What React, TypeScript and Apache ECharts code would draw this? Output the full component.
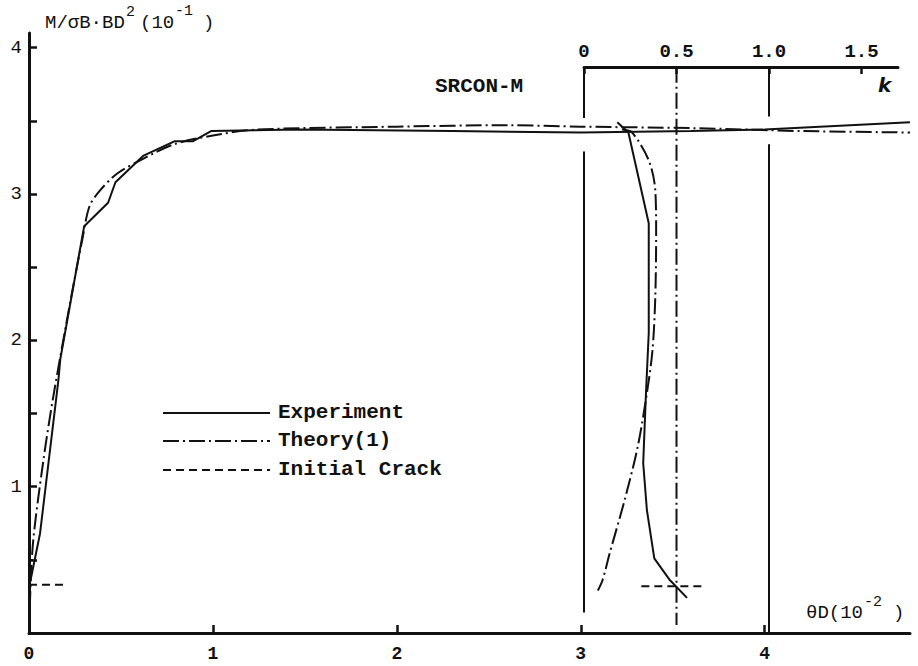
import React, { useEffect, useRef } from "react";
import * as echarts from "echarts";

// Main panel: M/(sigma B D^2) (10^-1) versus thetaD (10^-2)
const expX = [0, 0.005, 0.06, 0.16, 0.17, 0.30, 0.43, 0.47, 0.62, 0.79, 0.89, 0.99, 1.47, 2.3, 3.0, 3.6, 4.0, 4.79];
const expM = [0, 0.34, 0.68, 1.73, 1.87, 2.78, 2.94, 3.08, 3.26, 3.36, 3.36, 3.43, 3.44, 3.43, 3.42, 3.43, 3.44, 3.49];

const theoryX = [0, 0.02, 0.076, 0.13, 0.23, 0.29, 0.33, 0.39, 0.48, 0.62, 0.79, 1.0, 1.24, 2.0, 2.6, 3.0, 3.6, 4.2, 4.79];
const theoryM = [0, 0.59, 1.16, 1.60, 2.30, 2.69, 2.92, 3.03, 3.14, 3.24, 3.34, 3.40, 3.44, 3.46, 3.47, 3.46, 3.45, 3.43, 3.42];

const crackX = [0, 0.19];
const crackM = [0.33, 0.33];

// Inset panel: M versus k
const expK = [0.18, 0.24, 0.35, 0.35, 0.335, 0.32, 0.34, 0.38, 0.465, 0.557];
const expKM = [3.49, 3.42, 2.80, 2.05, 1.64, 1.16, 0.84, 0.51, 0.36, 0.24];

const theoryK = [0.205, 0.26, 0.35, 0.385, 0.39, 0.385, 0.37, 0.34, 0.29, 0.22, 0.14, 0.10, 0.075];
const theoryKM = [3.44, 3.42, 3.23, 3.03, 2.73, 2.28, 1.93, 1.64, 1.27, 0.91, 0.55, 0.36, 0.29];

const crackK = [0.31, 0.65];
const crackKM = [0.32, 0.32];

// reference verticals in the k panel
const refK0Segs = [[3.87, 3.52], [3.29, 0.14]];
const refK05Segs = [[3.87, 0.055]];
const refK1Segs = [[3.87, 3.53], [3.34, 0]];

const xTickLabels = [0, 1, 2, 3, 4];
const yTickLabels = [1, 2, 3, 4];
const yTicks = [0.5, 1, 1.5, 2, 2.5, 3, 3.5, 4];
const kTickLabels = [0, 0.5, 1.0, 1.5];

const FONT = "Liberation Mono";
const INK = "#111";
const DASHDOT = [16, 4, 2, 4];
const DASHED = [8, 5];

const zip = (a: number[], b: number[]) => a.map((v, i) => [v, b[i]]);

const txt = (text: string, x: number, y: number, size: number, extra: any = {}) => ({
  type: "text",
  x,
  y,
  style: {
    text,
    fontFamily: FONT,
    fontSize: size,
    fill: INK,
    verticalAlign: "middle",
    align: "left",
    ...extra,
  },
});

export default function App() {
  const ref = useRef<HTMLDivElement>(null);
  useEffect(() => {
    if (!ref.current) return;
    const chart = echarts.init(ref.current, null, { renderer: "svg" });

    const vertical = (k: number, segs: number[][], dash: any, name: string) =>
      segs.map((s, i) => ({
        type: "line",
        name: name + i,
        xAxisIndex: 1,
        yAxisIndex: 1,
        data: [[k, s[0]], [k, s[1]]],
        symbol: "none",
        silent: true,
        lineStyle: { color: INK, width: 2, type: dash },
      }));

    const option: any = {
      animation: false,
      backgroundColor: "#fff",
      grid: [
        { left: 29, top: 33, width: 881, height: 600 },
        { left: 584, top: 67, width: 314, height: 566 },
      ],
      xAxis: [
        {
          type: "value",
          gridIndex: 0,
          min: 0,
          max: 4.79,
          splitLine: { show: false },
          axisLine: { show: true, onZero: false, lineStyle: { color: INK, width: 3 } },
          axisTick: { show: true, inside: true, length: 8, customValues: xTickLabels, lineStyle: { color: INK, width: 2.5 } },
          axisLabel: {
            customValues: xTickLabels,
            margin: 12,
            color: INK,
            fontFamily: FONT,
            fontWeight: "bold",
            fontSize: 18,
            formatter: (v: number) => String(v),
          },
        },
        {
          type: "value",
          gridIndex: 1,
          position: "top",
          min: 0,
          max: 314 / 185,
          splitLine: { show: false },
          axisLine: { show: true, onZero: false, lineStyle: { color: INK, width: 3 } },
          axisTick: { show: true, inside: true, length: 7, customValues: kTickLabels, lineStyle: { color: INK, width: 2.5 } },
          axisLabel: {
            customValues: kTickLabels,
            margin: 6,
            color: INK,
            fontFamily: FONT,
            fontWeight: "bold",
            fontSize: 19,
            formatter: (v: number) => (v === 0 ? "0" : v.toFixed(1)),
          },
        },
      ],
      yAxis: [
        {
          type: "value",
          gridIndex: 0,
          min: 0,
          max: 4.1,
          splitLine: { show: false },
          axisLine: { show: true, onZero: false, lineStyle: { color: INK, width: 3 } },
          axisTick: { show: true, inside: true, length: 8, customValues: yTicks, lineStyle: { color: INK, width: 2.5 } },
          axisLabel: {
            customValues: yTickLabels,
            margin: 7,
            color: INK,
            fontFamily: FONT,
            fontSize: 19,
            formatter: (v: number) => String(v),
          },
        },
        {
          type: "value",
          gridIndex: 1,
          min: 0,
          max: 566 / (600 / 4.1),
          show: false,
        },
      ],
      series: [
        {
          type: "line",
          name: "Experiment",
          data: zip(expX, expM),
          symbol: "none",
          lineStyle: { color: INK, width: 2 },
        },
        {
          type: "line",
          name: "Theory(1)",
          data: zip(theoryX, theoryM),
          symbol: "none",
          smooth: 0.3,
          lineStyle: { color: INK, width: 2, type: DASHDOT },
        },
        {
          type: "line",
          name: "Initial Crack",
          data: zip(crackX, crackM),
          symbol: "none",
          lineStyle: { color: INK, width: 2, type: DASHED },
        },
        {
          type: "line",
          name: "Experiment k",
          xAxisIndex: 1,
          yAxisIndex: 1,
          data: zip(expK, expKM),
          symbol: "none",
          lineStyle: { color: INK, width: 2 },
        },
        {
          type: "line",
          name: "Theory k",
          xAxisIndex: 1,
          yAxisIndex: 1,
          data: zip(theoryK, theoryKM),
          symbol: "none",
          smooth: 0.3,
          lineStyle: { color: INK, width: 2, type: DASHDOT },
        },
        {
          type: "line",
          name: "Crack k",
          xAxisIndex: 1,
          yAxisIndex: 1,
          data: zip(crackK, crackKM),
          symbol: "none",
          lineStyle: { color: INK, width: 2, type: DASHED },
        },
        ...vertical(0, refK0Segs, "solid", "k0"),
        ...vertical(0.5, refK05Segs, DASHDOT, "k05"),
        ...vertical(1, refK1Segs, "solid", "k1"),
      ],
      graphic: [
        // y-axis title: M/σB·BD^2 (10^-1)
        txt("M/σB·BD", 45, 23, 19),
        txt("2", 126, 12, 15),
        txt("(10", 140, 23, 19),
        txt("-1", 175, 11, 15),
        txt(")", 203, 23, 19),
        // x-axis title: θD (10^-2)
        txt("θD(10", 806, 613, 19),
        txt("-2", 864, 602, 15),
        txt(")", 893, 613, 19),
        txt("SRCON-M", 435, 86, 21, { fontWeight: "bold" }),
        txt("k", 878, 85, 20, { fontFamily: "DejaVu Sans", fontWeight: "bold", fontStyle: "italic" }),
        { type: "line", shape: { x1: 163, y1: 413, x2: 270, y2: 413 }, style: { stroke: INK, lineWidth: 2 } },
        { type: "line", shape: { x1: 163, y1: 441, x2: 270, y2: 441 }, style: { stroke: INK, lineWidth: 2, lineDash: DASHDOT } },
        { type: "line", shape: { x1: 163, y1: 470, x2: 270, y2: 470 }, style: { stroke: INK, lineWidth: 2, lineDash: DASHED } },
        txt("Experiment", 278, 412, 21, { fontWeight: "bold" }),
        txt("Theory(1)", 278, 440, 21, { fontWeight: "bold" }),
        txt("Initial Crack", 278, 469, 21, { fontWeight: "bold" }),
      ],
    };
    chart.setOption(option);
    return () => chart.dispose();
  }, []);
  return (
    <div
      ref={ref}
      style={{ position: "fixed", left: 0, top: 0, width: 918, height: 666, background: "#fff" }}
    />
  );
}
